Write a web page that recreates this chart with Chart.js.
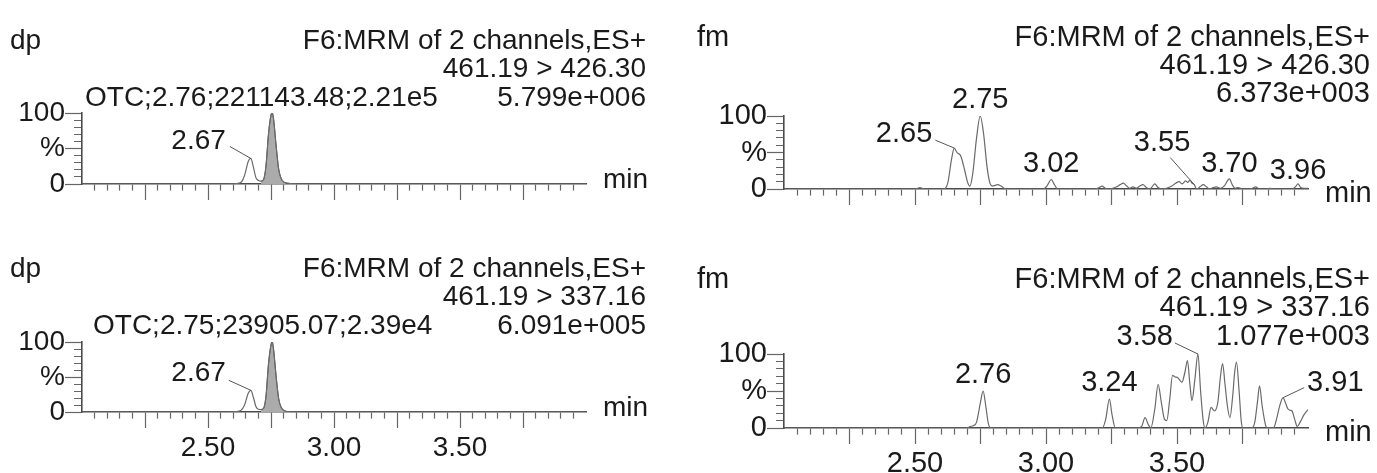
<!DOCTYPE html>
<html><head><meta charset="utf-8">
<script src="https://cdn.jsdelivr.net/npm/chart.js@4.4.0/dist/chart.umd.min.js"></script>
<style>
html,body{margin:0;padding:0;background:#fff;}
body{width:1377px;height:473px;position:relative;overflow:hidden;font-family:"Liberation Sans",Arial,sans-serif;color:#1a1a1a;}
canvas{position:absolute;}
.t{position:absolute;white-space:nowrap;}
.r{text-align:right;}
</style></head><body>
<canvas id="c0" width="670" height="230" style="left:0;top:0"></canvas>
<canvas id="c1" width="670" height="245" style="left:0;top:228px"></canvas>
<canvas id="c2" width="687" height="235" style="left:690px;top:0"></canvas>
<canvas id="c3" width="687" height="235" style="left:690px;top:238px"></canvas>
<div id="txt"></div>
<script>
// ---------- DATA ----------
const xTickLabels = ['2.50', '3.00', '3.50'];
const yTickValues = [0, 50, 100];
const yTickTexts = ['0', '%', '100'];
const axisUnit = 'min';
const panelNames = ['dp', 'dp', 'fm', 'fm'];
const channelTitle = 'F6:MRM of 2 channels,ES+';
const transitions = ['461.19 > 426.30', '461.19 > 337.16', '461.19 > 426.30', '461.19 > 337.16'];
const intensities = ['5.799e+006', '6.091e+005', '6.373e+003', '1.077e+003'];
const peakInfo = ['OTC;2.76;221143.48;2.21e5', 'OTC;2.75;23905.07;2.39e4', '', ''];

// dp, 461.19 > 426.30
const dpATime = [2.00, 2.58, 2.61, 2.63, 2.645, 2.66, 2.67, 2.68, 2.69, 2.70, 2.71, 2.72, 2.73, 2.74, 2.75, 2.755, 2.76, 2.77, 2.78, 2.79, 2.80, 2.81, 2.83, 2.86, 4.00];
const dpAPct  = [0, 0, 0.5, 2, 12, 32, 36, 24, 9, 5, 4, 6, 25, 70, 97, 100, 92, 55, 22, 8, 3, 1.5, 0.5, 0, 0];
const dpAFillFrom = 2.71, dpAFillTo = 2.815;
const dpALabelTimes = [2.67];
const dpALabelTexts = ['2.67'];

// dp, 461.19 > 337.16
const dpBTime = [2.00, 2.58, 2.61, 2.63, 2.645, 2.66, 2.67, 2.68, 2.69, 2.70, 2.71, 2.72, 2.73, 2.74, 2.75, 2.755, 2.76, 2.77, 2.78, 2.79, 2.80, 2.81, 2.83, 2.86, 4.00];
const dpBPct  = [0, 0, 0.5, 2, 10, 27, 31, 21, 8, 4, 3.5, 5, 22, 68, 96, 100, 90, 52, 20, 7, 2.5, 1, 0.3, 0, 0];
const dpBFillFrom = 2.71, dpBFillTo = 2.815;
const dpBLabelTimes = [2.67];
const dpBLabelTexts = ['2.67'];

// fm, 461.19 > 426.30
const fmATime = [2.00, 2.50, 2.51, 2.519, 2.528, 2.54, 2.61, 2.625, 2.64, 2.65, 2.66, 2.675, 2.69, 2.70, 2.709, 2.72, 2.735, 2.749, 2.762, 2.775, 2.787, 2.796, 2.805, 2.815, 2.829, 2.846,
  2.99, 3.005, 3.02, 3.032, 3.045, 3.19, 3.203, 3.214, 3.226, 3.24, 3.255, 3.27, 3.283, 3.295, 3.308, 3.32, 3.332, 3.345, 3.358, 3.37, 3.383, 3.395, 3.405, 3.415, 3.428, 3.44,
  3.46, 3.48, 3.495, 3.508, 3.52, 3.533, 3.541, 3.549, 3.557, 3.566, 3.575, 3.588, 3.60, 3.612, 3.625, 3.638, 3.65, 3.665, 3.68, 3.70, 3.712, 3.722, 3.734, 3.75, 3.775, 3.788,
  3.80, 3.815, 3.84, 3.855, 3.868, 3.88, 3.94, 3.952, 3.962, 3.972, 3.985, 4.00];
const fmAPct = [0, 0, 1, 2, 0.5, 0, 0, 8, 42, 56, 50, 45, 25, 10, 4, 20, 70, 100, 75, 30, 7, 4, 5, 6, 4, 0,
  0, 5, 13, 6, 0, 0, 2, 4, 1, 0, 1, 3, 6, 8, 4, 1, 3, 1, 4, 6, 2, 0, 3, 7, 2, 0,
  1, 4, 8, 10, 7, 11, 9, 12, 8, 6, 0, 3, 6, 3, 0, 2, 3, 1, 4, 14, 5, 1, 2, 0, 0, 1,
  3, 0, 0, 1, 0, 0, 0, 3, 7, 2, 1, 1];
const fmALabelTimes = [2.65, 2.749, 3.02, 3.566, 3.70, 3.962];
const fmALabelTexts = ['2.65', '2.75', '3.02', '3.55', '3.70', '3.96'];

// fm, 461.19 > 337.16
const fmBTime = [2.00, 2.70, 2.71, 2.722, 2.735, 2.75, 2.76, 2.77, 2.78, 2.79, 3.215, 3.228, 3.242, 3.252, 3.265, 3.35, 3.365, 3.378, 3.39, 3.40, 3.415, 3.428, 3.44, 3.452,
  3.461, 3.472, 3.483, 3.493, 3.503, 3.512, 3.519, 3.53, 3.54, 3.549, 3.557, 3.568, 3.58, 3.59, 3.60, 3.607, 3.618, 3.63, 3.643, 3.656, 3.666, 3.674, 3.683, 3.693, 3.702,
  3.713, 3.72, 3.727, 3.737, 3.745, 3.752, 3.785, 3.797, 3.807, 3.815, 3.825, 3.838, 3.846, 3.868, 3.88, 3.892, 3.905, 3.914, 3.923, 3.931, 3.939, 3.949, 3.959, 3.97, 3.985, 4.00];
const fmBPct = [0, 0, 2, 3, 8, 35, 50, 30, 6, 0, 0, 12, 39, 18, 0, 0, 2, 14, 5, 0, 25, 59, 35, 12,
  10, 38, 71, 69, 68, 64, 62, 75, 91, 60, 37, 65, 100, 50, 10, 0, 8, 28, 23, 35, 70, 87, 60, 28, 14,
  45, 75, 89, 50, 10, 0, 0, 8, 35, 57, 30, 4, 0, 0, 12, 30, 41, 34, 26, 24, 23, 12, 2, 8, 18, 25];
const fmBLabelTimes = [2.76, 3.242, 3.58, 3.905];
const fmBLabelTexts = ['2.76', '3.24', '3.58', '3.91'];

// ---------- STYLE / LAYOUT ----------
const FONT = '"Liberation Sans", Arial, sans-serif';
const TEXT = '#1a1a1a', AXIS = '#4a4a4a', TRACE = '#6a6a6a', FILL = '#ababab';
const labelStyles = [
  [{a: 'right', dx: -25, dy: -17, sx: -21, sy: -12}],
  [{a: 'right', dx: -25, dy: -17, sx: -22, sy: -10}],
  [{a: 'right', dx: -22, dy: -14, sx: -19, sy: -8}, {a: 'center', dx: 0, dy: -16}, {a: 'center', dx: 0, dy: -16},
   {a: 'right', dx: -4, dy: -42, sx: -24, sy: -27}, {a: 'center', dx: 0, dy: -15}, {a: 'center', dx: 0, dy: -13}],
  [{a: 'center', dx: 0, dy: -16}, {a: 'center', dx: 0, dy: -16}, {a: 'right', dx: -25, dy: -17, sx: -23, sy: -11},
   {a: 'left', dx: 24, dy: -15, sx: 21, sy: -10}]
];
const panelGeom = [
  {yW: 82, xH: 46, padTop: 113, padRight: 84, minDy: 4, showX: false, fs: 28},
  {yW: 82, xH: 61, padTop: 114, padRight: 84, minDy: 4, showX: true, fs: 28},
  {yW: 94, xH: 46, padTop: 116, padRight: 69, minDy: 13, showX: false, fs: 29},
  {yW: 94, xH: 45, padTop: 116, padRight: 69, minDy: 13, showX: true, fs: 29}
];
const headerPos = [
  {left: 10, right: 646, y: [40, 68, 97], infoLeft: 85},
  {left: 10, right: 646, y: [268, 296, 325], infoLeft: 93},
  {left: 697, right: 1370, y: [36, 64, 92]},
  {left: 697, right: 1370, y: [278, 306, 335]}
];

// ---------- HEADERS (HTML text) ----------
const txt = document.getElementById('txt');
function addText(s, x, yc, right, fs) {
  const d = document.createElement('div');
  d.className = 't' + (right ? ' r' : '');
  d.textContent = s;
  d.style.fontSize = fs + 'px'; d.style.lineHeight = fs + 'px';
  d.style.top = (yc - fs / 2) + 'px';
  if (right) { d.style.left = '0px'; d.style.width = x + 'px'; } else d.style.left = x + 'px';
  txt.appendChild(d);
}
headerPos.forEach((h, i) => {
  const fs = panelGeom[i].fs;
  addText(panelNames[i], h.left, h.y[0], false, fs);
  addText(channelTitle, h.right, h.y[0], true, fs);
  addText(transitions[i], h.right, h.y[1], true, fs);
  addText(intensities[i], h.right, h.y[2], true, fs);
  if (peakInfo[i]) addText(peakInfo[i], h.infoLeft, h.y[2], false, fs);
});

// ---------- CHARTS ----------
function pts(t, v) { return t.map((x, i) => ({x: x, y: v[i]})); }
function interp(t, v, x) {
  for (let i = 1; i < t.length; i++) if (x <= t[i]) { const f = (x - t[i-1]) / (t[i] - t[i-1]); return v[i-1] + f * (v[i] - v[i-1]); }
  return v[v.length - 1];
}
const hundredths = v => Math.round(v * 100);

const peakPlugin = {
  id: 'peakLabels',
  afterDatasetsDraw(chart, args, o) {
    const ctx = chart.ctx, xs = chart.scales.x, ys = chart.scales.y;
    ctx.save();
    ctx.font = o.fs + 'px ' + FONT; ctx.fillStyle = TEXT; ctx.textBaseline = 'middle';
    ctx.strokeStyle = '#555'; ctx.lineWidth = 1;
    o.times.forEach((t, i) => {
      const st = o.styles[i];
      const px = xs.getPixelForValue(t), py = ys.getPixelForValue(interp(o.tt, o.vv, t));
      ctx.textAlign = st.a;
      ctx.fillText(o.texts[i], px + st.dx, py + st.dy);
      if (st.sx !== undefined) {
        ctx.beginPath(); ctx.moveTo(px + st.sx, py + st.sy); ctx.lineTo(px, py); ctx.stroke();
      }
    });
    ctx.textAlign = 'left'; ctx.textBaseline = 'alphabetic';
    ctx.fillText(axisUnit, xs.right + 17, ys.getPixelForValue(0) + o.minDy);
    ctx.restore();
  }
};

const series = [
  {t: dpATime, v: dpAPct, fill: [dpAFillFrom, dpAFillTo], lt: dpALabelTimes, lx: dpALabelTexts},
  {t: dpBTime, v: dpBPct, fill: [dpBFillFrom, dpBFillTo], lt: dpBLabelTimes, lx: dpBLabelTexts},
  {t: fmATime, v: fmAPct, fill: null, lt: fmALabelTimes, lx: fmALabelTexts},
  {t: fmBTime, v: fmBPct, fill: null, lt: fmBLabelTimes, lx: fmBLabelTexts}
];

series.forEach((s, i) => {
  const g = panelGeom[i];
  const datasets = [{
    data: pts(s.t, s.v), borderColor: TRACE, borderWidth: 1.2, pointRadius: 0,
    tension: 0.35, cubicInterpolationMode: 'monotone', fill: false, order: 1
  }];
  if (s.fill) {
    const ft = [], fv = [];
    s.t.forEach((x, k) => { if (x >= s.fill[0] && x <= s.fill[1]) { ft.push(x); fv.push(s.v[k]); } });
    datasets.push({data: pts(ft, fv), borderColor: '#555', borderWidth: 1, backgroundColor: FILL,
      pointRadius: 0, tension: 0.35, cubicInterpolationMode: 'monotone', fill: 'origin', order: 2});
  }
  new Chart(document.getElementById('c' + i), {
    type: 'line',
    data: {datasets},
    options: {
      responsive: false, animation: false, events: [],
      layout: {padding: {left: 0, right: g.padRight, top: g.padTop, bottom: 0}},
      plugins: {legend: {display: false}, tooltip: {enabled: false},
        peakLabels: {times: s.lt, texts: s.lx, styles: labelStyles[i], tt: s.t, vv: s.v, minDy: g.minDy, fs: g.fs}},
      scales: {
        x: {
          type: 'linear', min: 2.0, max: 4.0, position: 'bottom',
          afterFit: sc => { sc.height = g.xH; },
          border: {display: true, color: AXIS, width: 1.6},
          grid: {
            drawOnChartArea: false, drawTicks: true, tickLength: 16, tickWidth: 1.2,
            tickColor: c => { const h = c.tick ? hundredths(c.tick.value) : 0; return (h <= 200 || h >= 400) ? 'rgba(0,0,0,0)' : '#666'; },
            tickBorderDash: c => { const h = c.tick ? hundredths(c.tick.value) : 0; return (h % 25 === 0) ? [] : [6, 60]; }
          },
          ticks: {
            stepSize: 0.05, autoSkip: false, maxRotation: 0, minRotation: 0, padding: 3,
            color: TEXT, font: {size: g.fs, family: FONT},
            callback: v => { if (!g.showX) return ''; const lab = (v).toFixed(2); return xTickLabels.includes(lab) ? lab : ''; }
          }
        },
        y: {
          min: 0, max: 100,
          afterFit: sc => { sc.width = g.yW; },
          border: {display: true, color: AXIS, width: 1.6},
          grid: {
            drawOnChartArea: false, drawTicks: true, tickLength: 17, tickWidth: 1.2, tickColor: '#666',
            tickBorderDash: c => { const v = c.tick ? Math.round(c.tick.value) : 0; return yTickValues.includes(v) ? [] : [0, 9, 8, 60]; }
          },
          ticks: {
            stepSize: 10, autoSkip: false, padding: 0, color: TEXT, font: {size: g.fs, family: FONT},
            callback: v => { const k = yTickValues.indexOf(Math.round(v)); return k >= 0 ? yTickTexts[k] : ''; }
          }
        }
      }
    },
    plugins: [peakPlugin]
  });
});
</script>
</body></html>
